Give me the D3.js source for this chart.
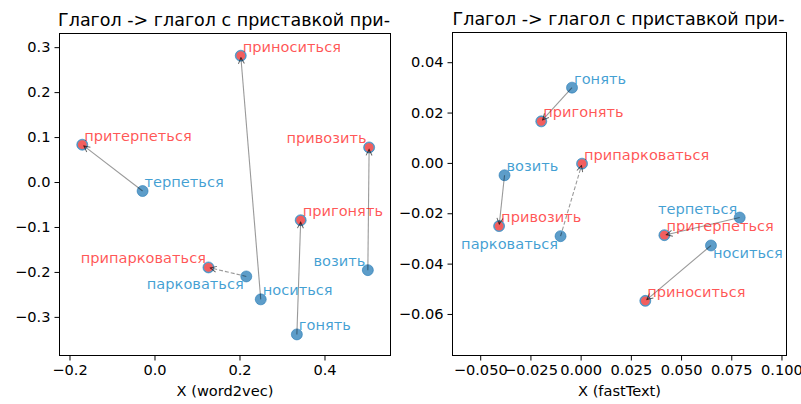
<!DOCTYPE html>
<html>
<head>
<meta charset="utf-8">
<script src="https://cdn.jsdelivr.net/npm/d3@7"></script>
<style>
  body { margin: 0; background: #fff; }
  svg text { font-family: "DejaVu Sans", sans-serif; }
</style>
</head>
<body>
<div id="chart"></div>
<script>
var svgWidth = 801;
var svgHeight = 404;

var titleText = "Глагол -> глагол с приставкой при-";

// word pairs: base verb -> verb with prefix при-
var baseWords = ["терпеться", "носиться", "возить", "гонять", "парковаться"];
var prefWords = ["притерпеться", "приноситься", "привозить", "пригонять", "припарковаться"];
var pairDashed = [false, false, false, false, true];

// word2vec (left panel)
var w2vBaseX = [-0.028, 0.250, 0.502, 0.335, 0.216];
var w2vBaseY = [-0.020, -0.261, -0.196, -0.339, -0.210];
var w2vPrefX = [-0.170, 0.203, 0.505, 0.344, 0.127];
var w2vPrefY = [0.083, 0.281, 0.077, -0.085, -0.190];
var w2vXTicks = [-0.2, 0.0, 0.2, 0.4];
var w2vYTicks = [-0.3, -0.2, -0.1, 0.0, 0.1, 0.2, 0.3];

// fastText (right panel)
var ftBaseX = [0.0792, 0.0649, -0.0379, -0.0043, -0.0100];
var ftBaseY = [-0.0217, -0.0328, -0.0049, 0.0299, -0.0291];
var ftPrefX = [0.0417, 0.0322, -0.0406, -0.0196, 0.0007];
var ftPrefY = [-0.0287, -0.0548, -0.0251, 0.0165, -0.0003];
var ftXTicks = [-0.050, -0.025, 0.000, 0.025, 0.050, 0.075, 0.100];
var ftYTicks = [-0.06, -0.04, -0.02, 0.00, 0.02, 0.04];

// label side: ur = up-right, ul = up-left, dl = down-left, dr = down-right
var w2vBaseSide = ["ur", "ur", "ul", "ur", "dl"];
var w2vPrefSide = ["ur", "ur", "ul", "ur", "ul"];
var ftBaseSide = ["ul", "dr", "ur", "ur", "dl"];
var ftPrefSide = ["ur", "ur", "ur", "ur", "ur"];

var svg = d3.select("#chart")
  .append("svg")
  .attr("width", svgWidth)
  .attr("height", svgHeight);

var defs = svg.append("defs");
defs.append("marker")
  .attr("id", "head")
  .attr("viewBox", "-7 -4 8 8")
  .attr("refX", 0)
  .attr("refY", 0)
  .attr("markerWidth", 8)
  .attr("markerHeight", 8)
  .attr("markerUnits", "userSpaceOnUse")
  .attr("orient", "auto")
  .append("path")
  .attr("d", "M-6,-3L0,0L-6,3")
  .attr("fill", "none")
  .attr("stroke", "#000")
  .attr("stroke-opacity", 0.6)
  .attr("stroke-width", 1);

function drawPanel(opt) {
  var x = d3.scaleLinear().domain(opt.xDomain).range([opt.left, opt.right]);
  var y = d3.scaleLinear().domain(opt.yDomain).range([opt.bottom, opt.top]);
  var g = svg.append("g");

  var bottomAxis = d3.axisBottom(x).tickValues(opt.xTicks)
    .tickFormat(d3.format(opt.xFmt)).tickSizeOuter(0).tickSize(5).tickPadding(4);
  var leftAxis = d3.axisLeft(y).tickValues(opt.yTicks)
    .tickFormat(d3.format(opt.yFmt)).tickSizeOuter(0).tickSize(5).tickPadding(4);

  var gx = g.append("g").attr("transform", `translate(0, ${opt.bottom})`).call(bottomAxis);
  var gy = g.append("g").attr("transform", `translate(${opt.left}, 0)`).call(leftAxis);
  [gx, gy].forEach(function(a) {
    a.select(".domain").remove();
    a.selectAll("text").attr("font-size", "14.6px").attr("fill", "#000")
      .style("font-family", "DejaVu Sans");
    a.selectAll("line").attr("stroke", "#000");
  });

  g.append("rect")
    .attr("x", opt.left).attr("y", opt.top)
    .attr("width", opt.right - opt.left).attr("height", opt.bottom - opt.top)
    .attr("fill", "none").attr("stroke", "#000").attr("stroke-width", 1);

  g.append("text")
    .attr("x", (opt.left + opt.right) / 2 - 1).attr("y", opt.top - 8)
    .attr("text-anchor", "middle").attr("font-size", "17.5px")
    .text(titleText);

  g.append("text")
    .attr("x", (opt.left + opt.right) / 2).attr("y", opt.bottom + 40)
    .attr("text-anchor", "middle").attr("font-size", "14.6px")
    .text(opt.xLabel);

  var pairs = baseWords.map(function(w, i) {
    return {
      base: w, pref: prefWords[i], dashed: pairDashed[i],
      bx: opt.bx[i], by: opt.by[i], px: opt.px[i], py: opt.py[i],
      bSide: opt.bSide[i], pSide: opt.pSide[i]
    };
  });

  // points
  var all = pairs.map(d => ({x: d.bx, y: d.by})).concat(pairs.map(d => ({x: d.px, y: d.py})));
  g.selectAll("circle.all").data(all).enter().append("circle")
    .attr("cx", d => x(d.x)).attr("cy", d => y(d.y)).attr("r", 5.5)
    .attr("fill", "#1f77b4").attr("fill-opacity", 0.72)
    .attr("stroke", "#1f77b4").attr("stroke-opacity", 0.72).attr("stroke-width", 0.8);
  g.selectAll("circle.pref").data(pairs).enter().append("circle")
    .attr("cx", d => x(d.px)).attr("cy", d => y(d.py)).attr("r", 4.4)
    .attr("fill", "#f25e5e");

  // arrows base -> prefixed
  g.selectAll("line.arrow").data(pairs).enter().append("line")
    .attr("x1", d => x(d.bx)).attr("y1", d => y(d.by))
    .attr("x2", function(d) {
      var dx = x(d.px) - x(d.bx), dy = y(d.py) - y(d.by), l = Math.hypot(dx, dy);
      return x(d.px) - dx / l * 2;
    })
    .attr("y2", function(d) {
      var dx = x(d.px) - x(d.bx), dy = y(d.py) - y(d.by), l = Math.hypot(dx, dy);
      return y(d.py) - dy / l * 2;
    })
    .attr("stroke", "#000").attr("stroke-opacity", 0.4).attr("stroke-width", 1.1)
    .attr("stroke-dasharray", d => d.dashed ? "4,2" : null)
    .attr("marker-end", "url(#head)");

  function place(sel, side) {
    sel.attr("text-anchor", s => side(s)[1] === "r" ? "start" : "end")
      .attr("dx", s => side(s)[1] === "r" ? 2 : -2.5)
      .attr("dy", s => side(s)[0] === "u" ? -4 : 13);
  }

  var bl = g.selectAll("text.base").data(pairs).enter().append("text")
    .attr("x", d => x(d.bx)).attr("y", d => y(d.by))
    .attr("font-size", "14.6px").attr("fill", "#1f8fcc").attr("fill-opacity", 0.85)
    .text(d => d.base);
  place(bl, d => d.bSide);

  var pl = g.selectAll("text.pref").data(pairs).enter().append("text")
    .attr("x", d => x(d.px)).attr("y", d => y(d.py))
    .attr("font-size", "14.6px").attr("fill", "#ff0000").attr("fill-opacity", 0.68)
    .text(d => d.pref);
  place(pl, d => d.pSide);
}

drawPanel({
  left: 59.5, right: 390.5, top: 33.5, bottom: 355.5,
  xDomain: [-0.2235, 0.5553], yDomain: [-0.3859, 0.3304],
  xTicks: w2vXTicks, yTicks: w2vYTicks, xFmt: ".1f", yFmt: ".1f",
  xLabel: "X (word2vec)",
  bx: w2vBaseX, by: w2vBaseY, px: w2vPrefX, py: w2vPrefY,
  bSide: w2vBaseSide, pSide: w2vPrefSide
});

drawPanel({
  left: 452.5, right: 786.5, top: 32.5, bottom: 355.5,
  xDomain: [-0.0638, 0.1025], yDomain: [-0.0765, 0.0518],
  xTicks: ftXTicks, yTicks: ftYTicks, xFmt: ".3f", yFmt: ".2f",
  xLabel: "X (fastText)",
  bx: ftBaseX, by: ftBaseY, px: ftPrefX, py: ftPrefY,
  bSide: ftBaseSide, pSide: ftPrefSide
});
</script>
</body>
</html>
